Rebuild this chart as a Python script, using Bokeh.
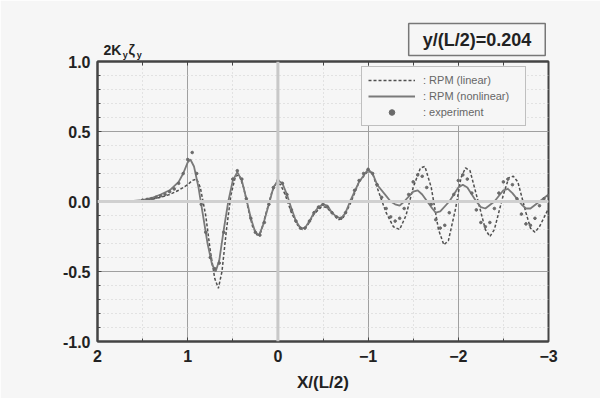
from bokeh.plotting import figure
from bokeh.models import (Range1d, LinearAxis, SingleIntervalTicker, FixedTicker, Span, Label,
                          Legend, LegendItem)
from bokeh.embed import file_html
from bokeh.resources import INLINE

# ---- data ----
lin_x = [2.0, 1.6, 1.5, 1.4, 1.3, 1.2, 1.1, 1.0, 0.95, 0.9, 0.86, 0.8, 0.75, 0.7, 0.66, 0.62,
         0.57, 0.52, 0.47, 0.43, 0.38, 0.33, 0.28, 0.23, 0.19, 0.13, 0.07, 0.02, -0.03, -0.08,
         -0.15, -0.22, -0.27, -0.32, -0.4, -0.48, -0.53, -0.6, -0.67, -0.72, -0.8, -0.9, -1.0,
         -1.05, -1.1, -1.2, -1.28, -1.35, -1.42, -1.5, -1.58, -1.63, -1.7, -1.78, -1.84, -1.89,
         -1.97, -2.03, -2.08, -2.13, -2.22, -2.3, -2.35, -2.4, -2.5, -2.56, -2.61, -2.66, -2.75,
         -2.8, -2.85, -2.9, -3.0]
lin_y = [0.0, 0.0, 0.005, 0.015, 0.03, 0.05, 0.08, 0.12, 0.15, 0.16, 0.1, -0.1, -0.35, -0.55,
         -0.62, -0.5, -0.2, 0.05, 0.18, 0.19, 0.1, -0.05, -0.18, -0.24, -0.22, -0.08, 0.06, 0.13,
         0.12, 0.05, -0.08, -0.17, -0.2, -0.18, -0.09, -0.04, -0.04, -0.08, -0.13, -0.12, -0.02,
         0.14, 0.22, 0.2, 0.1, -0.08, -0.18, -0.2, -0.1, 0.1, 0.24, 0.25, 0.1, -0.2, -0.31,
         -0.28, -0.05, 0.17, 0.24, 0.22, 0.0, -0.2, -0.25, -0.2, 0.05, 0.17, 0.18, 0.14, -0.08,
         -0.19, -0.22, -0.18, -0.05]

non_x = [2.0, 1.8, 1.6, 1.5, 1.4, 1.3, 1.2, 1.1, 1.05, 1.0, 0.97, 0.93, 0.88, 0.83, 0.78, 0.73,
         0.69, 0.65, 0.6, 0.55, 0.5, 0.45, 0.4, 0.35, 0.3, 0.25, 0.21, 0.17, 0.1, 0.05, 0.0,
         -0.05, -0.1, -0.15, -0.2, -0.25, -0.3, -0.35, -0.4, -0.45, -0.5, -0.55, -0.6, -0.65,
         -0.7, -0.75, -0.8, -0.9, -1.0, -1.05, -1.1, -1.2, -1.25, -1.3, -1.35, -1.4, -1.5,
         -1.55, -1.6, -1.7, -1.75, -1.8, -1.9, -2.0, -2.05, -2.1, -2.2, -2.25, -2.3, -2.4,
         -2.5, -2.55, -2.6, -2.7, -2.75, -2.8, -2.9, -3.0]
non_y = [0.0, 0.0, 0.005, 0.01, 0.025, 0.05, 0.08, 0.14, 0.2, 0.28, 0.3, 0.25, 0.1, -0.1, -0.3,
         -0.45, -0.5, -0.42, -0.2, 0.0, 0.15, 0.21, 0.15, 0.02, -0.12, -0.22, -0.24, -0.18,
         -0.02, 0.1, 0.15, 0.13, 0.05, -0.05, -0.14, -0.19, -0.19, -0.14, -0.08, -0.04, -0.02,
         -0.03, -0.08, -0.11, -0.12, -0.08, 0.0, 0.14, 0.23, 0.2, 0.12, 0.04, 0.0, -0.02, -0.03,
         0.0, 0.07, 0.08, 0.05, -0.04, -0.08, -0.07, 0.0, 0.1, 0.12, 0.1, 0.0, -0.04, -0.05,
         0.0, 0.08, 0.09, 0.06, -0.02, -0.05, -0.05, 0.0, 0.05]

exp_x = [1.5, 1.45, 1.4, 1.35, 1.3, 1.25, 1.2, 1.15, 1.1, 1.05, 1.0, 0.95, 0.9, 0.85, 0.8, 0.75,
         0.7, 0.65, 0.6, 0.55, 0.5, 0.45, 0.4, 0.35, 0.3, 0.25, 0.2, 0.15, 0.1, 0.05, 0.0,
         -0.05, -0.1, -0.15, -0.2, -0.25, -0.3, -0.35, -0.4, -0.45, -0.5, -0.55, -0.6, -0.65,
         -0.7, -0.75, -0.8, -0.85, -0.9, -0.95, -1.0, -1.05, -1.1, -1.15, -1.2, -1.25, -1.3,
         -1.35, -1.4, -1.45, -1.5, -1.55, -1.6, -1.65, -1.7, -1.75, -1.8, -1.85, -1.9, -1.95,
         -2.0, -2.05, -2.1, -2.15, -2.2, -2.25, -2.3, -2.35, -2.4, -2.45, -2.5, -2.55, -2.6,
         -2.65, -2.7, -2.75, -2.8, -2.85, -2.9, -2.95, -3.0]
exp_y = [0.01, 0.015, 0.02, 0.03, 0.04, 0.05, 0.07, 0.09, 0.13, 0.2, 0.3, 0.35, 0.2, -0.02,
         -0.22, -0.4, -0.48, -0.44, -0.22, 0.0, 0.16, 0.22, 0.16, 0.02, -0.12, -0.22, -0.24,
         -0.15, -0.02, 0.1, 0.15, 0.13, 0.05, -0.06, -0.14, -0.19, -0.19, -0.14, -0.08, -0.04,
         -0.02, -0.04, -0.08, -0.11, -0.12, -0.08, 0.0, 0.08, 0.15, 0.2, 0.23, 0.2, 0.12, 0.03,
         -0.05, -0.11, -0.14, -0.12, -0.05, 0.05, 0.14, 0.19, 0.18, 0.1, -0.02, -0.13, -0.19,
         -0.17, -0.08, 0.05, 0.15, 0.19, 0.16, 0.06, -0.06, -0.15, -0.18, -0.15, -0.05, 0.06,
         0.14, 0.16, 0.12, 0.02, -0.09, -0.16, -0.17, -0.12, -0.03, 0.02, 0.04]

top_ticks = [2.0, 1.5, 1.0, 0.5, 0.0, -0.5, -1.0, -1.5, -2.0, -2.5, -3.0]
legend_labels = [": RPM (linear)", ": RPM (nonlinear)", ": experiment"]
x_title = "X/(L/2)"
box_text = "y/(L/2)=0.204"
ylabel_parts = ["2K", "y", "\u03b6", "y"]

BG = "#f6f6f6"
FONT = "Liberation Sans"
DARK = "#222222"

p = figure(width=600, height=398, output_backend="svg", toolbar_location=None,
           x_range=Range1d(2, -3), y_range=Range1d(-1, 1),
           x_axis_location=None, y_axis_location=None,
           min_border_left=97, min_border_right=52, min_border_top=61, min_border_bottom=57)
p.background_fill_color = BG
p.border_fill_color = BG
p.outline_line_color = "#444444"
p.outline_line_width = 2

# grids
p.xgrid.ticker = SingleIntervalTicker(interval=1, num_minor_ticks=2)
p.ygrid.ticker = SingleIntervalTicker(interval=0.5, num_minor_ticks=5)
for g in (p.xgrid[0], p.ygrid[0]):
    g.grid_line_color = "#a0a0a0"
    g.grid_line_width = 1
    g.minor_grid_line_color = "#cfcfcf"
    g.minor_grid_line_dash = "1 3"
    g.minor_grid_line_width = 1

p.add_layout(Span(location=0, dimension="width", line_color="#d0d0d0", line_width=3))
p.add_layout(Span(location=0, dimension="height", line_color="#c8c8c8", line_width=3))

# axes
bottom = LinearAxis(ticker=SingleIntervalTicker(interval=1, num_minor_ticks=2))
left = LinearAxis(ticker=SingleIntervalTicker(interval=0.5, num_minor_ticks=5))
top = LinearAxis(ticker=FixedTicker(ticks=[], minor_ticks=top_ticks))
for ax in (bottom, left, top):
    ax.axis_line_color = "#444444"
    ax.axis_line_width = 2
    ax.major_tick_in = 4
    ax.major_tick_out = 0
    ax.minor_tick_in = 3
    ax.minor_tick_out = 0
    ax.major_tick_line_color = "#444444"
    ax.minor_tick_line_color = "#444444"
    ax.major_label_text_font = FONT
    ax.major_label_text_font_style = "bold"
    ax.major_label_text_font_size = "16px"
    ax.major_label_text_color = DARK
top.minor_tick_in = 4
top.major_label_standoff = 0
left.major_label_standoff = 7
bottom.major_label_standoff = 8
left.major_label_overrides = {1: "1.0", 0.5: "0.5", 0: "0.0", -0.5: "-0.5", -1: "-1.0"}
bottom.axis_label = x_title
bottom.axis_label_text_font = FONT
bottom.axis_label_text_font_style = "bold"
bottom.axis_label_text_font_size = "17px"
bottom.axis_label_text_color = DARK
bottom.axis_label_standoff = 8
p.add_layout(bottom, "below")
p.add_layout(left, "left")
p.add_layout(top, "above")

# data
r_lin = p.line(lin_x, lin_y, line_color="#505050", line_width=1.5, line_dash="3 2")
r_non = p.line(non_x, non_y, line_color="#7a7a7a", line_width=1.8)
r_exp = p.scatter(exp_x, exp_y, size=2.6, marker="circle", fill_color="#6a6a6a",
                  line_color="#6a6a6a")

legend = Legend(items=[LegendItem(label=legend_labels[0], renderers=[r_lin]),
                       LegendItem(label=legend_labels[1], renderers=[r_non]),
                       LegendItem(label=legend_labels[2], renderers=[r_exp])],
                location=(264, 215), glyph_width=47, glyph_height=14, spacing=2,
                padding=6, margin=0, label_standoff=8, label_width=96,
                label_text_font=FONT, label_text_font_size="11px", label_text_color="#666666",
                border_line_color="#888888", border_line_width=1,
                background_fill_color=BG, background_fill_alpha=1.0)
p.add_layout(legend, "center")

# texts above the frame (placed in side panels so they are not clipped to the frame)
p.add_layout(Label(x=-2.207, y=1.157, text=box_text, text_font=FONT, text_font_style="bold",
                   text_font_size="18px", text_color=DARK, text_align="center",
                   text_baseline="middle", border_line_color="#777777", border_line_width=1.5,
                   background_fill_color=BG, padding=(14, 6)), "above")

ylab_pos = [(1.933, 1.079, "14px"), (1.72, 1.043, "9px"),
            (1.655, 1.079, "14px"), (1.565, 1.043, "9px")]
for t, (xx, yy, fs) in zip(ylabel_parts, ylab_pos):
    p.add_layout(Label(x=xx, y=yy, text=t, text_font=FONT, text_font_style="bold",
                       text_font_size=fs, text_color=DARK, text_baseline="alphabetic"), "right")

open("out.html", "w").write(file_html(p, INLINE))
